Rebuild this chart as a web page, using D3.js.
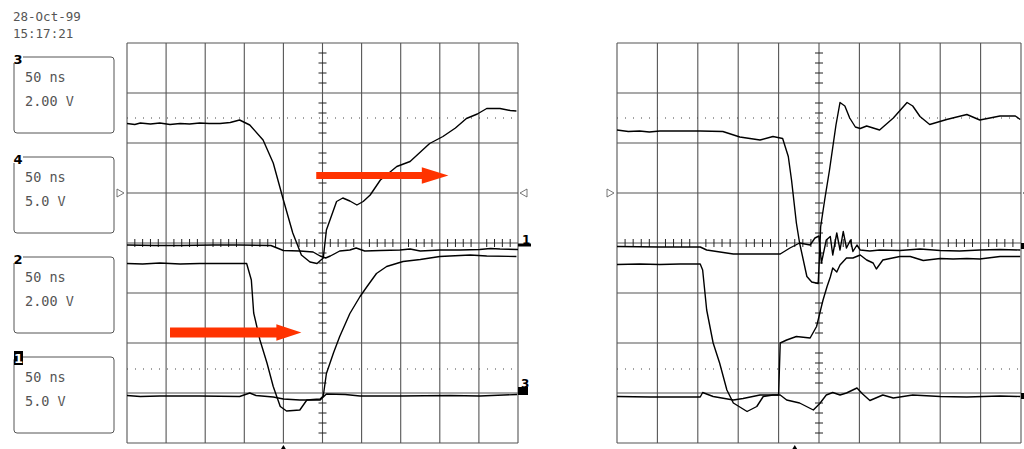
<!DOCTYPE html>
<html>
<head>
  <script src="https://d3js.org/d3.v7.min.js"></script>
  <style>
    html, body { margin: 0; padding: 0; background: #fff; }
    svg { display: block; }
    .info { font-family: "DejaVu Sans Mono", monospace; font-size: 13.5px; fill: #555; }
    .stamp { font-family: "DejaVu Sans Mono", monospace; font-size: 12.5px; fill: #555; }
    .chnum { font-family: "DejaVu Sans", sans-serif; font-size: 13px; font-weight: bold; fill: #000; }
  </style>
</head>
<body>
<script>
// time in ns (50 ns/div, trigger at centre), level in screen divisions
const timeTicks = [-250, -200, -150, -100, -50, 0, 50, 100, 150, 200, 250];
const divTicks = [-4, -3, -2, -1, 0, 1, 2, 3, 4];
const dottedLevels = [2.5, -2.52];

const channels = [
  {num: "3", tdiv: "50 ns", vdiv: "2.00 V"},
  {num: "4", tdiv: "50 ns", vdiv: "5.0 V"},
  {num: "2", tdiv: "50 ns", vdiv: "2.00 V"},
  {num: "1", tdiv: "50 ns", vdiv: "5.0 V"}
];

// left screen
const leftA = [[-250,2.39],[-240,2.37],[-233,2.40],[-220,2.38],[-208,2.40],[-195,2.37],[-182,2.39],[-170,2.38],[-157,2.40],[-145,2.39],[-131,2.39],[-118,2.41],[-106,2.46],[-93,2.36],[-76,2.06],[-63,1.60],[-50,0.86],[-38,0.20],[-27,-0.24],[-16,-0.38],[-7,-0.41],[1,-0.30],[5,0.26],[18,0.83],[26,0.90],[35,0.84],[44,0.76],[52,0.83],[61,0.96],[74,1.26],[95,1.53],[112,1.63],[137,1.99],[154,2.13],[170,2.30],[184,2.49],[198,2.58],[210,2.69],[227,2.69],[240,2.65],[248,2.64]];
const leftB = [[-250,-0.04],[-215,-0.05],[-182,-0.05],[-140,-0.04],[-106,-0.04],[-66,-0.05],[-50,-0.15],[-29,-0.16],[-12,-0.18],[-3,-0.26],[4,-0.30],[10,-0.26],[22,-0.16],[35,-0.14],[43,-0.10],[54,-0.16],[74,-0.15],[99,-0.14],[112,-0.12],[125,-0.16],[150,-0.14],[176,-0.14],[201,-0.13],[215,-0.11],[227,-0.12],[250,-0.13]];
const leftC = [[-250,-0.41],[-230,-0.42],[-208,-0.40],[-182,-0.42],[-157,-0.41],[-125,-0.41],[-97,-0.41],[-91,-0.74],[-88,-1.40],[-80,-1.94],[-71,-2.40],[-63,-2.87],[-54,-3.27],[-46,-3.36],[-29,-3.34],[-20,-3.14],[-12,-3.13],[-3,-3.12],[1,-3.06],[5,-2.61],[14,-2.20],[22,-1.87],[35,-1.41],[48,-1.07],[57,-0.87],[69,-0.61],[82,-0.47],[103,-0.37],[125,-0.33],[150,-0.27],[189,-0.24],[210,-0.26],[248,-0.27]];
const leftD = [[-250,-3.05],[-233,-3.07],[-208,-3.06],[-157,-3.06],[-106,-3.07],[-93,-3.00],[-85,-3.05],[-63,-3.08],[-50,-3.12],[-29,-3.14],[-3,-3.14],[5,-3.02],[29,-3.03],[48,-3.06],[99,-3.06],[163,-3.05],[201,-3.06],[249,-3.03]];

// right screen
const rightA = [[-250,2.26],[-236,2.23],[-222,2.24],[-210,2.22],[-197,2.24],[-172,2.24],[-147,2.24],[-119,2.23],[-98,2.12],[-73,2.06],[-57,2.13],[-45,2.09],[-38,1.73],[-34,1.26],[-28,0.40],[-24,0.00],[-15,-0.67],[-9,-0.78],[-1,-0.81],[1,-0.14],[2,0.32],[7,0.86],[13,1.46],[21,2.36],[26,2.81],[32,2.74],[38,2.50],[45,2.32],[51,2.29],[59,2.34],[75,2.26],[92,2.50],[109,2.81],[116,2.74],[125,2.53],[137,2.37],[158,2.47],[183,2.57],[199,2.46],[224,2.54],[243,2.54],[249,2.47]];
const rightB = [[-250,-0.07],[-197,-0.08],[-147,-0.08],[-139,-0.14],[-106,-0.22],[-48,-0.22],[-36,-0.10],[-24,0.00],[-11,-0.04],[-5,0.10],[0,0.14],[3,-0.40],[9,0.06],[14,0.13],[17,-0.24],[22,0.20],[26,-0.14],[30,0.23],[34,-0.10],[39,0.06],[42,-0.17],[47,-0.04],[51,-0.14],[63,-0.16],[75,-0.14],[100,-0.15],[125,-0.12],[150,-0.15],[174,-0.16],[199,-0.14],[224,-0.13],[249,-0.14]];
const rightC = [[-250,-0.43],[-222,-0.42],[-197,-0.43],[-172,-0.42],[-147,-0.42],[-144,-0.54],[-139,-1.34],[-131,-2.00],[-123,-2.40],[-114,-2.94],[-106,-3.20],[-89,-3.37],[-77,-3.27],[-69,-3.07],[-57,-3.04],[-50,-3.04],[-48,-2.00],[-40,-1.94],[-28,-1.87],[-11,-1.90],[-3,-1.67],[3,-1.27],[5,-1.14],[10,-0.87],[14,-0.68],[17,-0.50],[22,-0.58],[26,-0.44],[30,-0.37],[34,-0.30],[42,-0.30],[51,-0.24],[59,-0.34],[67,-0.40],[71,-0.52],[79,-0.34],[100,-0.27],[113,-0.27],[129,-0.35],[150,-0.31],[166,-0.32],[183,-0.31],[199,-0.32],[224,-0.27],[249,-0.27]];
const rightD = [[-250,-3.07],[-209,-3.08],[-147,-3.08],[-144,-2.99],[-131,-3.07],[-106,-3.14],[-94,-3.11],[-73,-3.04],[-48,-3.04],[-40,-3.14],[-24,-3.20],[-7,-3.34],[1,-3.21],[9,-3.04],[17,-2.99],[26,-3.04],[34,-3.00],[47,-2.90],[54,-3.02],[63,-3.15],[79,-3.04],[92,-3.10],[116,-3.04],[150,-3.07],[183,-3.08],[224,-3.06],[249,-3.07]];

// annotation arrows: [start ns, head base ns, tip ns, level div, half shaft px]
const leftArrows = [[-8, 127, 161, 1.35, 3.5], [-195, -59, -27, -1.79, 5]];

const width = 1024, height = 449;
const plotTop = 43, plotBottom = 443;

const svg = d3.select("body").append("svg")
  .attr("width", width).attr("height", height);
svg.append("rect").attr("width", width).attr("height", height).attr("fill", "#fff");

// time stamp
svg.append("text").attr("class", "stamp").attr("x", 13).attr("y", 21).text("28-Oct-99");
svg.append("text").attr("class", "stamp").attr("x", 13).attr("y", 38).text("15:17:21");

// channel boxes
channels.forEach(function(c, i) {
  const y0 = 57 + i * 100;
  svg.append("rect")
    .attr("x", 14).attr("y", y0).attr("width", 100).attr("height", 76)
    .attr("rx", 3).attr("fill", "none").attr("stroke", "#555").attr("stroke-width", 1);
  if (c.num === "1") {
    svg.append("rect").attr("x", 14).attr("y", y0 - 6).attr("width", 9).attr("height", 14).attr("fill", "#000");
    svg.append("text").attr("class", "chnum").attr("x", 18.5).attr("y", y0 + 6)
      .attr("text-anchor", "middle").style("fill", "#fff").text(c.num);
  } else {
    svg.append("rect").attr("x", 13).attr("y", y0 - 6).attr("width", 10).attr("height", 12).attr("fill", "#fff");
    svg.append("text").attr("class", "chnum").attr("x", 18).attr("y", y0 + 7)
      .attr("text-anchor", "middle").text(c.num);
  }
  svg.append("text").attr("class", "info").attr("x", 25).attr("y", y0 + 25).text(c.tdiv);
  svg.append("text").attr("class", "info").attr("x", 25).attr("y", y0 + 49).text(c.vdiv);
});

const panels = [
  {x0: 127, x1: 518, traces: [leftA, leftB, leftC, leftD], trig: -50, arrows: leftArrows, left: true},
  {x0: 617, x1: 1021, traces: [rightA, rightB, rightC, rightD], trig: -30, arrows: [], left: false}
];

panels.forEach(function(p) {
  const x = d3.scaleLinear().domain([-250, 250]).range([p.x0, p.x1]);
  const y = d3.scaleLinear().domain([-4, 4]).range([plotBottom, plotTop]);
  const g = svg.append("g");

  // grid
  g.selectAll(".vg").data(timeTicks).enter().append("line")
    .attr("x1", d => x(d)).attr("x2", d => x(d))
    .attr("y1", plotTop).attr("y2", plotBottom)
    .attr("stroke", "#555").attr("stroke-width", 1.1);
  g.selectAll(".hg").data(divTicks).enter().append("line")
    .attr("x1", p.x0).attr("x2", p.x1)
    .attr("y1", d => y(d)).attr("y2", d => y(d))
    .attr("stroke", "#555").attr("stroke-width", 1.1);

  // dotted levels
  g.selectAll(".dl").data(dottedLevels).enter().append("line")
    .attr("x1", p.x0).attr("x2", p.x1)
    .attr("y1", d => y(d)).attr("y2", d => y(d))
    .attr("stroke", "#444").attr("stroke-width", 1)
    .attr("stroke-dasharray", "1,7");

  // minor ticks on centre axes
  const vMinor = d3.range(-3.8, 4, 0.2).filter(d => Math.abs(d - Math.round(d)) > 0.01);
  g.selectAll(".vt").data(vMinor).enter().append("line")
    .attr("x1", x(0) - 4).attr("x2", x(0) + 4)
    .attr("y1", d => y(d)).attr("y2", d => y(d))
    .attr("stroke", "#222").attr("stroke-width", 1);
  const hMinor = d3.range(-240, 250, 10).filter(d => d % 50 !== 0);
  g.selectAll(".ht").data(hMinor).enter().append("line")
    .attr("x1", d => x(d)).attr("x2", d => x(d))
    .attr("y1", y(0) - 4).attr("y2", y(0) + 4)
    .attr("stroke", "#222").attr("stroke-width", 1);

  // traces
  const line = d3.line().x(d => x(d[0])).y(d => y(d[1]));
  p.traces.forEach(function(t) {
    g.append("path").attr("d", line(t))
      .attr("fill", "none").attr("stroke", "#000").attr("stroke-width", 1.4)
      .attr("stroke-linejoin", "round");
  });

  // level markers at the left / right edges
  const my = y(1);
  g.append("path")
    .attr("d", `M${p.x0 - 10},${my - 4}L${p.x0 - 3},${my}L${p.x0 - 10},${my + 4}Z`)
    .attr("fill", "#fff").attr("stroke", "#555").attr("stroke-width", 0.8);
  g.append("path")
    .attr("d", `M${p.x1 + 9},${my - 4}L${p.x1 + 2},${my}L${p.x1 + 9},${my + 4}Z`)
    .attr("fill", "#fff").attr("stroke", "#555").attr("stroke-width", 0.8);

  // ground markers
  if (p.left) {
    g.append("rect").attr("x", p.x1).attr("y", y(0) + 0.5).attr("width", 13).attr("height", 3).attr("fill", "#000");
    g.append("text").attr("class", "chnum").attr("x", p.x1 + 4).attr("y", y(0) + 1).style("font-size", "12px").text("1");
    g.append("rect").attr("x", p.x1).attr("y", y(-3.04) - 8).attr("width", 10).attr("height", 8).attr("fill", "#000");
    g.append("text").attr("class", "chnum").attr("x", p.x1 + 3).attr("y", y(-3.04) - 7).style("font-size", "12px").text("3");
  } else {
    g.append("rect").attr("x", p.x1).attr("y", y(-0.06) - 3).attr("width", 3).attr("height", 6).attr("fill", "#000");
    g.append("rect").attr("x", p.x1).attr("y", y(-3.06) - 3).attr("width", 3).attr("height", 6).attr("fill", "#000");
  }

  // trigger marker
  g.append("path")
    .attr("d", `M${x(p.trig)},${plotBottom + 2}L${x(p.trig) + 3},${plotBottom + 7}L${x(p.trig) - 3},${plotBottom + 7}Z`)
    .attr("fill", "#000");

  // red arrows
  p.arrows.forEach(function(a) {
    const xs = x(a[0]), xb = x(a[1]), xt = x(a[2]), yc = y(a[3]), h = a[4];
    g.append("path")
      .attr("d", `M${xs},${yc - h}L${xb},${yc - h}L${xb},${yc - 8.3}L${xt},${yc}L${xb},${yc + 8.3}L${xb},${yc + h}L${xs},${yc + h}Z`)
      .attr("fill", "#ff3300");
  });
});
</script>
</body>
</html>
